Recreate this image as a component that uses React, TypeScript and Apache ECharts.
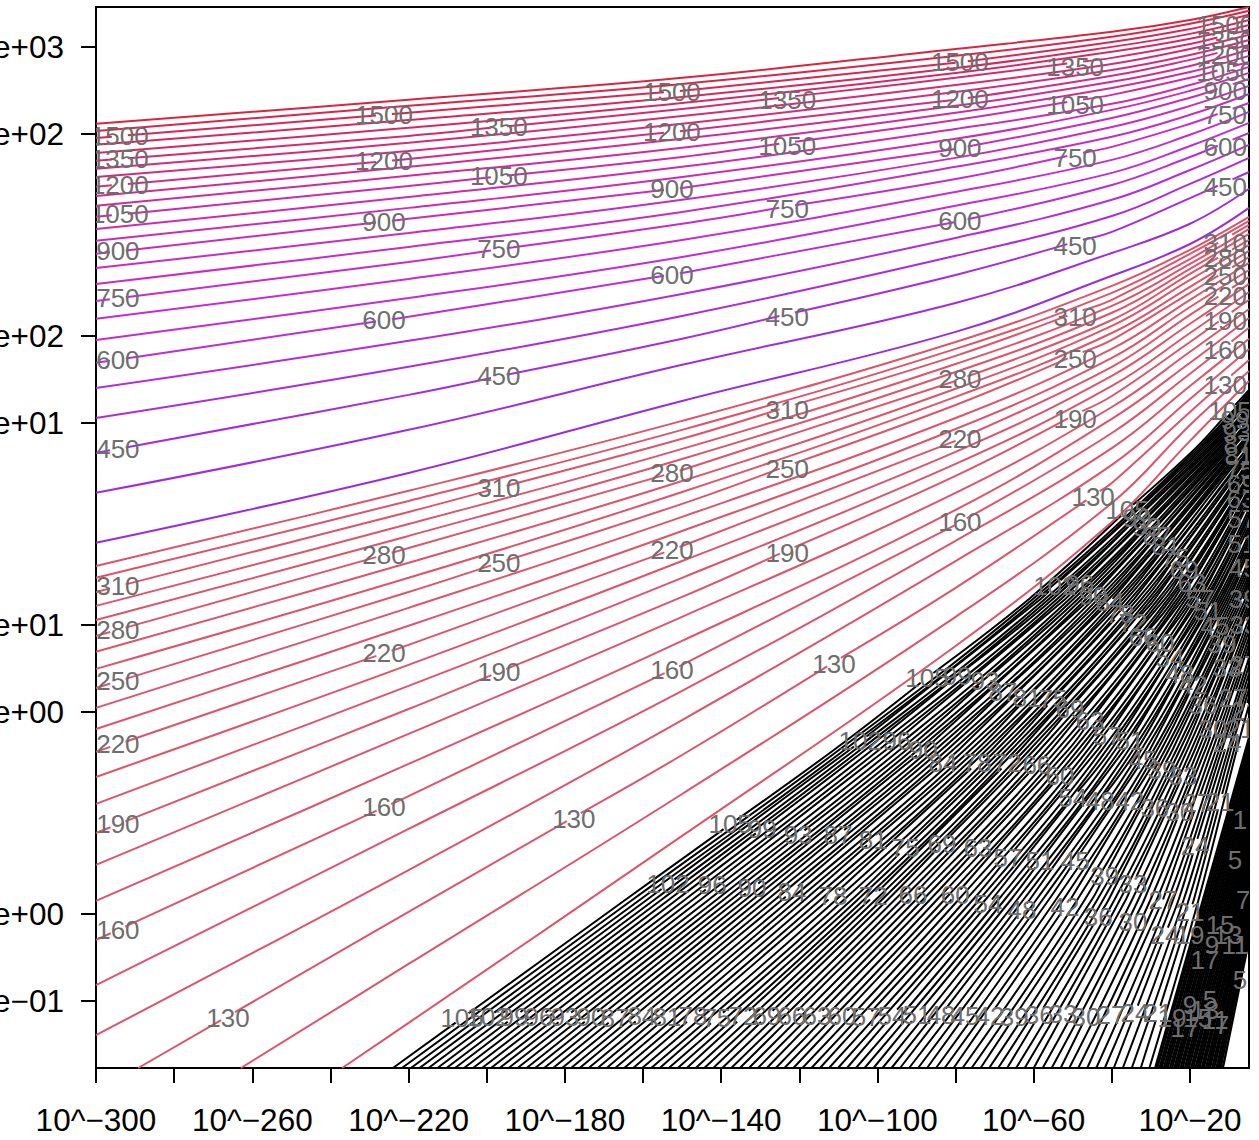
import React, { useEffect, useRef } from "react";
import * as echarts from "echarts";

// All x values are log10(x); all y values are log10(y).
const X_MIN = -300;
const X_MAX = -4.9;
const Y_MIN = -0.533;
const Y_MAX = 3.138;

const xTickValues = [-300, -280, -260, -240, -220, -200, -180, -160, -140, -120, -100, -80, -60, -40, -20];
const xLabelValues = [-300, -260, -220, -180, -140, -100, -60, -20];
const yTickValues = [3, 2.699, 2, 1.699, 1, 0.699, 0, -0.301];
const yTickLabels = ["1e+03", "5e+02", "1e+02", "5e+01", "1e+01", "5e+00", "1e+00", "5e\u221201"];

// Upper family: contour levels 350..1600, y read at fixed x columns
const upperColumns = [-300, -220, -150, -80, -40, -20, -4.9];
const upperLevels = [350, 400, 450, 500, 550, 600, 650, 700, 750, 800, 850, 900, 950, 1000, 1050, 1100, 1150, 1200, 1250, 1300, 1350, 1400, 1450, 1500, 1550, 1600];
const upperAtM300 = [1.284, 1.457, 1.595, 1.716, 1.82, 1.907, 1.986, 2.059, 2.121, 2.18, 2.235, 2.284, 2.329, 2.37, 2.412, 2.45, 2.484, 2.516, 2.55, 2.578, 2.606, 2.633, 2.661, 2.685, 2.709, 2.734];
const upperAtM220 = [1.526, 1.675, 1.796, 1.893, 1.983, 2.066, 2.131, 2.197, 2.256, 2.308, 2.356, 2.405, 2.443, 2.481, 2.519, 2.554, 2.585, 2.612, 2.64, 2.668, 2.692, 2.72, 2.747, 2.772, 2.796, 2.817];
const upperAtM150 = [1.775, 1.9, 1.99, 2.069, 2.145, 2.218, 2.273, 2.332, 2.388, 2.429, 2.471, 2.512, 2.55, 2.585, 2.619, 2.651, 2.682, 2.709, 2.734, 2.761, 2.785, 2.806, 2.827, 2.848, 2.872, 2.893];
const upperAtM80 = [2.014, 2.114, 2.211, 2.277, 2.339, 2.394, 2.45, 2.498, 2.543, 2.585, 2.616, 2.647, 2.682, 2.716, 2.747, 2.772, 2.796, 2.817, 2.844, 2.868, 2.893, 2.91, 2.927, 2.945, 2.969, 2.993];
const upperAtM40 = [2.208, 2.287, 2.36, 2.415, 2.471, 2.522, 2.564, 2.609, 2.654, 2.689, 2.723, 2.754, 2.782, 2.803, 2.834, 2.858, 2.879, 2.9, 2.92, 2.941, 2.962, 2.983, 3.0, 3.017, 3.035, 3.052];
const upperAtM20 = [2.318, 2.388, 2.477, 2.526, 2.574, 2.619, 2.657, 2.696, 2.734, 2.765, 2.796, 2.824, 2.848, 2.868, 2.893, 2.913, 2.934, 2.955, 2.972, 2.993, 3.01, 3.028, 3.045, 3.062, 3.08, 3.093];
const upperAtEdge = [2.443, 2.509, 2.567, 2.616, 2.661, 2.702, 2.737, 2.775, 2.806, 2.837, 2.865, 2.889, 2.91, 2.931, 2.948, 2.969, 2.99, 3.007, 3.024, 3.042, 3.059, 3.076, 3.093, 3.111, 3.125, 3.138];

// Middle family: contour levels 110..330
const middleLevels = [110, 120, 130, 140, 150, 160, 170, 180, 190, 200, 210, 220, 230, 240, 250, 260, 270, 280, 290, 300, 310, 320, 330];
const middleBottomX = [-237.0, -262.9, -289.2];
const middleAtM300 = [null, null, null, -0.419, -0.246, -0.09, 0.045, 0.17, 0.28, 0.381, 0.474, 0.561, 0.64, 0.713, 0.782, 0.848, 0.907, 0.962, 1.017, 1.066, 1.114, 1.163, 1.204];
const middleAtM220 = [-0.377, -0.173, 0.007, 0.152, 0.294, 0.408, 0.519, 0.623, 0.709, 0.789, 0.862, 0.931, 0.997, 1.059, 1.114, 1.163, 1.215, 1.266, 1.308, 1.349, 1.391, 1.429, 1.464];
const middleAtM150 = [0.27, 0.415, 0.55, 0.671, 0.772, 0.862, 0.945, 1.028, 1.097, 1.163, 1.221, 1.273, 1.325, 1.374, 1.419, 1.46, 1.498, 1.536, 1.574, 1.609, 1.644, 1.675, 1.706];
const middleAtM80 = [0.927, 1.028, 1.128, 1.221, 1.291, 1.346, 1.398, 1.457, 1.516, 1.557, 1.599, 1.637, 1.678, 1.716, 1.761, 1.789, 1.817, 1.844, 1.875, 1.903, 1.931, 1.955, 1.979];
const middleAtM40 = [1.356, 1.422, 1.491, 1.554, 1.612, 1.664, 1.713, 1.754, 1.792, 1.827, 1.862, 1.893, 1.924, 1.955, 1.986, 2.01, 2.035, 2.055, 2.08, 2.104, 2.125, 2.149, 2.173];
const middleAtM20 = [1.637, 1.692, 1.737, 1.782, 1.827, 1.869, 1.907, 1.945, 1.979, 2.01, 2.042, 2.073, 2.1, 2.125, 2.149, 2.17, 2.194, 2.215, 2.232, 2.249, 2.266, 2.284, 2.298];
const middleAtEdge = [1.844, 1.879, 1.917, 1.955, 1.99, 2.028, 2.062, 2.093, 2.125, 2.152, 2.18, 2.204, 2.228, 2.253, 2.273, 2.294, 2.315, 2.332, 2.353, 2.37, 2.384, 2.398, 2.412];

// Black family: levels 105..20, x read at fixed y rows, then y at the right edge
const blackRowY = [0.05, 0.57, 1.09, 1.61];
const blackLevels = [105, 104, 103, 102, 101, 100, 99, 98, 97, 96, 95, 94, 93, 92, 91, 90, 89, 88, 87, 86, 85, 84, 83, 82, 81, 80, 79, 78, 77, 76, 75, 74, 73, 72, 71, 70, 69, 68, 67, 66, 65, 64, 63, 62, 61, 60, 59, 58, 57, 56, 55, 54, 53, 52, 51, 50, 49, 48, 47, 46, 45, 44, 43, 42, 41, 40, 39, 38, 37, 36, 35, 34, 33, 32, 31, 30, 29, 28, 27, 26, 25, 24, 23, 22, 21, 20];
const blackAtBottom = [-224.0, -221.7, -219.4, -217.2, -214.9, -212.6, -210.3, -208.1, -205.8, -203.5, -201.2, -198.9, -196.7, -194.4, -192.1, -189.8, -187.6, -185.3, -183.0, -180.7, -178.4, -176.2, -173.9, -171.6, -169.3, -167.1, -164.8, -162.5, -160.2, -157.9, -155.7, -153.4, -151.1, -148.8, -146.5, -144.3, -142.0, -139.7, -137.4, -135.2, -132.9, -130.6, -128.3, -126.0, -123.8, -121.5, -119.2, -116.9, -114.7, -112.4, -110.1, -107.8, -105.5, -103.3, -101.0, -98.7, -96.4, -94.2, -91.9, -89.6, -87.3, -85.0, -82.8, -80.5, -78.2, -75.9, -73.6, -71.4, -69.1, -66.8, -64.5, -62.3, -60.0, -57.7, -55.4, -53.1, -50.9, -48.6, -46.3, -44.0, -41.8, -39.5, -37.2, -34.9, -32.6, -30.4];
const blackAtRow005 = [-164.4, -162.6, -160.7, -158.9, -157.0, -155.2, -153.3, -151.3, -149.2, -147.2, -145.2, -143.1, -141.1, -139.3, -137.4, -135.6, -133.7, -131.9, -130.0, -128.1, -126.2, -124.3, -122.3, -120.4, -118.5, -116.5, -114.5, -112.5, -110.5, -108.5, -106.5, -105.0, -103.4, -101.9, -100.4, -98.8, -97.3, -95.5, -93.7, -91.9, -90.1, -88.3, -86.5, -84.7, -82.8, -81.0, -79.2, -77.3, -75.5, -73.9, -72.3, -70.7, -69.0, -67.4, -65.8, -64.2, -62.6, -61.0, -59.3, -57.7, -56.1, -54.3, -52.4, -50.6, -48.8, -46.9, -45.1, -43.7, -42.2, -40.8, -39.3, -37.9, -36.4, -34.8, -33.2, -31.7, -30.1, -28.5, -26.9, -25.6, -24.3, -22.9, -21.6, -20.3, -19.0, -17.8];
const blackAtRow057 = [-110.9, -109.6, -108.2, -106.9, -105.6, -104.2, -102.9, -101.1, -99.4, -97.6, -95.9, -94.1, -92.4, -90.9, -89.4, -87.9, -86.5, -85.0, -83.5, -82.0, -80.5, -79.0, -77.5, -76.0, -74.5, -73.2, -71.9, -70.6, -69.4, -68.1, -66.8, -65.6, -64.4, -63.3, -62.1, -60.9, -59.7, -58.3, -56.8, -55.4, -53.9, -52.5, -51.0, -49.8, -48.5, -47.3, -46.0, -44.8, -43.5, -42.4, -41.2, -40.1, -39.0, -37.8, -36.7, -35.6, -34.5, -33.5, -32.4, -31.3, -30.2, -29.2, -28.3, -27.3, -26.3, -25.4, -24.4, -23.4, -22.5, -21.5, -20.6, -19.6, -18.7, -17.8, -16.9, -16.0, -15.1, -14.2, -13.3, -12.5, -11.8, -11.0, -10.2, -9.5, -8.7, -8.0];
const blackAtRow109 = [-61.2, -60.2, -59.2, -58.2, -57.1, -56.1, -55.1, -54.0, -53.0, -51.9, -50.8, -49.8, -48.7, -47.7, -46.6, -45.6, -44.6, -43.5, -42.5, -41.6, -40.7, -39.8, -38.9, -38.0, -37.1, -36.2, -35.2, -34.3, -33.4, -32.4, -31.5, -30.6, -29.8, -29.0, -28.1, -27.3, -26.4, -25.6, -24.9, -24.1, -23.3, -22.6, -21.8, -21.1, -20.3, -19.6, -18.9, -18.1, -17.4, -16.8, -16.1, -15.5, -14.9, -14.2, -13.6, -13.0, -12.4, -11.8, -11.2, -10.6, -10.0, -9.4, -8.8, -8.2, -7.6, -7.0, -6.4, -5.8, -5.2];
const blackAtRow161 = [-18.7, -18.1, -17.5, -16.9, -16.3, -15.7, -15.1, -14.6, -14.0, -13.5, -12.9, -12.4, -11.8, -11.3, -10.8, -10.3, -9.8, -9.2, -8.7, -8.2, -7.8, -7.3, -6.8, -6.4, -5.9, -5.4];
const blackAtEdge = [1.813, 1.805, 1.797, 1.789, 1.781, 1.773, 1.765, 1.757, 1.749, 1.741, 1.732, 1.724, 1.716, 1.709, 1.701, 1.694, 1.686, 1.679, 1.671, 1.663, 1.655, 1.647, 1.639, 1.631, 1.623, 1.615, 1.608, 1.6, 1.593, 1.585, 1.578, 1.57, 1.562, 1.553, 1.545, 1.537, 1.529, 1.521, 1.514, 1.506, 1.499, 1.491, 1.484, 1.473, 1.461, 1.45, 1.438, 1.427, 1.415, 1.401, 1.386, 1.372, 1.358, 1.343, 1.329, 1.315, 1.3, 1.286, 1.271, 1.257, 1.242, 1.226, 1.21, 1.194, 1.177, 1.161, 1.145, 1.128, 1.112, 1.095, 1.078, 1.062, 1.045, 1.023, 1.001, 0.979, 0.957, 0.935, 0.913, 0.886, 0.859, 0.832, 0.805, 0.778, 0.751, 0.723];

// Lowest levels: packed lines, bottom crossing x and right-edge y
const denseBottomX = [-28.9, -28.4, -27.8, -27.3, -26.7, -26.2, -25.7, -25.1, -24.6, -24.0, -23.5, -23.0, -22.4, -21.9, -21.3, -20.8, -20.3, -19.7, -19.2, -18.6, -18.1, -17.6, -17.0, -16.5, -15.9, -15.4, -14.9, -14.3, -13.8, -13.2, -12.7, -12.2, -11.6];
const denseEdgeY = [0.609, 0.587, 0.565, 0.544, 0.522, 0.5, 0.478, 0.456, 0.435, 0.413, 0.391, 0.369, 0.347, 0.326, 0.304, 0.282, 0.26, 0.238, 0.217, 0.195, 0.173, 0.151, 0.129, 0.108, 0.086, 0.064, 0.042, 0.02, -0.001, -0.023, -0.045, -0.067, -0.09];

// Contour labels: x of the label, contour level, and a small y nudge (log10 units)
const upperLabelRuns: [number[], number[], number][] = [
  [[-293.9, -293.9, -293.9, -293.9], [1500, 1350, 1200, 1050], 0],
  [[-294.4, -294.4, -294.4, -294.4, -294.4, -294.4, -294.4, -294.4, -294.4, -294.4], [900, 750, 600, 450, 310, 280, 250, 220, 190, 160], 0],
  [[-226.3, -226.3, -226.3, -226.3, -226.3, -226.3, -226.3], [1500, 1200, 900, 600, 280, 220, 160], 0],
  [[-196.9, -196.9, -196.9, -196.9, -196.9, -196.9, -196.9], [1350, 1050, 750, 450, 310, 250, 190], 0],
  [[-152.6, -152.6, -152.6, -152.6, -152.6, -152.6, -152.6], [1500, 1200, 900, 600, 280, 220, 160], 0],
  [[-123.1, -123.1, -123.1, -123.1, -123.1, -123.1, -123.1], [1350, 1050, 750, 450, 310, 250, 190], -0.01],
  [[-78.9, -78.9, -78.9, -78.9, -78.9, -78.9, -78.9], [1500, 1200, 900, 600, 280, 220, 160], 0],
  [[-49.4, -49.4, -49.4, -49.4, -49.4, -49.4, -49.4], [1350, 1050, 750, 450, 310, 250, 190], -0.014],
  [[-11, -11, -11, -11, -11, -11, -11, -11, -11, -11, -11, -11, -11, -11, -11], [1500, 1350, 1200, 1050, 900, 750, 600, 450, 310, 280, 250, 220, 190, 160, 130], -0.014],
  [[-266.2, -177.7, -111.1, -44.8], [130, 130, 130, 130], -0.006],
];
const blackLabelRowA = [-206.3, -199.7, -193.0, -186.6, -180.0, -173.3, -167.2, -160.3, -153.9, -147.2, -141.1, -134.4, -128.3, -121.9, -115.5, -109.1, -102.9, -96.3, -89.9, -83.7, -77.6, -71.2, -65.0, -58.6, -52.5, -46.6, -40.2, -34.1, -28.2];
const blackLabelRowALevels = [105, 102, 99, 96, 93, 90, 87, 84, 81, 78, 75, 72, 69, 66, 63, 60, 57, 54, 51, 48, 45, 42, 39, 36, 33, 30, 27, 24, 21];
const evenRowLevels = [102, 96, 90, 84, 78, 72, 66, 60, 54, 48, 42, 36, 30, 24];
const oddRowLevels = [105, 99, 93, 87, 81, 75, 69, 63, 57, 51, 45, 39, 33, 27, 21];
const blackLabelRowB = [-153.6, -142.3, -132.1, -121.9, -111.4, -101.1, -90.9, -80.1, -71.7, -63.0, -52.0, -43.5, -34.6, -26.4];
const blackLabelRowC = [-137.7, -129.5, -120.3, -110.1, -101.1, -92.9, -83.5, -74.3, -66.6, -58.4, -49.4, -41.8, -34.6, -26.9, -20.0];
const blackLabelRowD = [-104.4, -95.0, -88.3, -83.2, -74.5, -66.8, -59.2, -53.3, -50.0, -43.0, -35.4, -29.0, -22.6, -18.7];
const blackLabelRowE = [-87.3, -79.6, -72.5, -67.9, -61.7, -55.1, -50.7, -45.6, -41.2, -35.4, -32.0, -27.2, -21.8, -18.2, -12.3];
const blackLabelRowF = [-54.6, -48.2, -44.8, -40.5, -37.9, -34.6, -32.0, -27.7, -25.1, -22.6, -19.2, -16.7, -14.1, -10.5];
const blackLabelRowG = [-36.1, -33.5, -31.0, -28.4, -26.1, -23.8, -21.5, -19.5, -17.4, -15.4, -13.6, -11.8, -10.5, -9.0, -7.2];
const blackLabelRowH = [-9.8, -8.5, -8.0, -7.7, -7.5, -7.2, -6.9, -6.9, -6.7, -6.7, -6.4, -6.4, -6.2, -6.2, -5.9];
// Overlapping labels in the packed area: x, y, text
const denseLabelX = [-24.6, -21.3, -18.0, -16.2, -13.6, -20.0, -11.8, -14.9, -20.0, -16.2, -12.3, -10.3, -8.5, -14.4, -6.4, -7.2, -8.5, -7.2];
const denseLabelY = [-0.36, -0.394, -0.36, -0.332, -0.367, -0.315, -0.384, -0.298, -0.073, -0.159, -0.038, -0.073, -0.107, -0.107, 0.048, -0.228, 0.187, 0.325];
const denseLabelText = ["19", "17", "15", "13", "11", "9", "7", "5", "19", "17", "15", "13", "11", "9", "7", "5", "5", "1"];

const FONT = '"Liberation Sans", Arial, sans-serif';
const GRID = { left: 96, top: 7, width: 1153, height: 1061 };
const PX_X = GRID.width / (X_MAX - X_MIN);
const PX_Y = GRID.height / (Y_MAX - Y_MIN);
const LABEL_GAP = 16;
const upperStops = ["#9A2BE2", "#C42CD8", "#D02AB4", "#D62A78", "#DA2540"];

type P = [number, number];

function hex(c: string) {
  return [1, 3, 5].map((i) => parseInt(c.slice(i, i + 2), 16));
}
function upperColor(t: number) {
  const s = t * (upperStops.length - 1);
  const i = Math.min(Math.floor(s), upperStops.length - 2);
  const a = hex(upperStops[i]);
  const b = hex(upperStops[i + 1]);
  const m = a.map((v, k) => Math.round(v + (b[k] - v) * (s - i)));
  return `rgb(${m[0]},${m[1]},${m[2]})`;
}
function yOnLine(pts: P[], x: number) {
  for (let i = 0; i + 1 < pts.length; i++) {
    const [a, b] = [pts[i], pts[i + 1]];
    if (x >= a[0] && x <= b[0]) return a[1] + ((b[1] - a[1]) * (x - a[0])) / (b[0] - a[0] || 1);
  }
  return pts[pts.length - 1][1];
}
function withGaps(pts: P[], labelXs: number[]) {
  const out: any[] = [];
  const sorted = [...labelXs].sort((a, b) => a - b);
  for (let i = 0; i < pts.length; i++) {
    const a = pts[i];
    out.push(a);
    const b = pts[i + 1];
    if (!b) break;
    const dx = b[0] - a[0];
    const dy = b[1] - a[1];
    const len = Math.hypot(dx * PX_X, dy * PX_Y) || 1;
    const half = ((LABEL_GAP / 2) * dx) / len;
    for (const lx of sorted) {
      if (lx <= a[0] || lx > b[0]) continue;
      const l = Math.max(a[0], lx - half);
      const r = Math.min(b[0], lx + half);
      out.push([l, a[1] + (dy * (l - a[0])) / (dx || 1)]);
      out.push(["-", "-"]);
      out.push([r, a[1] + (dy * (r - a[0])) / (dx || 1)]);
    }
  }
  return out;
}

function buildLines() {
  const lines = new Map<number, P[]>();
  upperLevels.forEach((lv, i) => {
    const ys = [upperAtM300[i], upperAtM220[i], upperAtM150[i], upperAtM80[i], upperAtM40[i], upperAtM20[i], upperAtEdge[i]];
    lines.set(lv, ys.map((y, k) => [upperColumns[k], y] as P));
  });
  middleLevels.forEach((lv, i) => {
    const pts: P[] = [];
    if (middleAtM300[i] === null) pts.push([middleBottomX[i], Y_MIN]);
    else pts.push([upperColumns[0], middleAtM300[i] as number]);
    const ys = [middleAtM220[i], middleAtM150[i], middleAtM80[i], middleAtM40[i], middleAtM20[i], middleAtEdge[i]];
    ys.forEach((y, k) => pts.push([upperColumns[k + 1], y]));
    lines.set(lv, pts);
  });
  blackLevels.forEach((lv, i) => {
    const pts: P[] = [[blackAtBottom[i], Y_MIN], [blackAtRow005[i], blackRowY[0]], [blackAtRow057[i], blackRowY[1]]];
    if (blackAtRow109[i] !== undefined) pts.push([blackAtRow109[i], blackRowY[2]]);
    if (blackAtRow161[i] !== undefined) pts.push([blackAtRow161[i], blackRowY[3]]);
    pts.push([X_MAX, blackAtEdge[i]]);
    lines.set(lv, pts);
  });
  return lines;
}

function buildLabels() {
  const out: { level: number; x: number; nudge: number }[] = [];
  upperLabelRuns.forEach(([xs, lv, nudge]) => xs.forEach((x, i) => out.push({ level: lv[i], x, nudge })));
  const add = (xs: number[], lv: number[]) => xs.forEach((x, i) => out.push({ level: lv[i], x, nudge: 0 }));
  add(blackLabelRowA, blackLabelRowALevels);
  add(blackLabelRowB, evenRowLevels);
  add(blackLabelRowC, oddRowLevels);
  add(blackLabelRowD, evenRowLevels);
  add(blackLabelRowE, oddRowLevels);
  add(blackLabelRowF, evenRowLevels);
  add(blackLabelRowG, oddRowLevels);
  add(blackLabelRowH, oddRowLevels);
  return out;
}

function buildOption() {
  const lines = buildLines();
  const labels = buildLabels();
  const xsByLevel = new Map<number, number[]>();
  labels.forEach((l) => {
    if (!xsByLevel.has(l.level)) xsByLevel.set(l.level, []);
    xsByLevel.get(l.level)!.push(l.x);
  });

  const series: any[] = [];
  const addLine = (name: string, pts: any[], color: string, width: number) =>
    series.push({
      type: "line",
      name,
      data: pts,
      showSymbol: false,
      silent: true,
      connectNulls: false,
      clip: true,
      smooth: 0.4,
      lineStyle: { color, width },
      itemStyle: { color },
    });

  blackLevels.forEach((lv) => addLine(String(lv), withGaps(lines.get(lv)!, xsByLevel.get(lv) || []), "#000000", 2));
  denseBottomX.forEach((x, i) =>
    addLine(`low${i}`, [[x, Y_MIN], [X_MAX, denseEdgeY[i]]], "#000000", 2.4)
  );
  middleLevels.forEach((lv) => addLine(String(lv), withGaps(lines.get(lv)!, xsByLevel.get(lv) || []), "#DF536B", 2));
  upperLevels.forEach((lv, i) =>
    addLine(String(lv), withGaps(lines.get(lv)!, xsByLevel.get(lv) || []), upperColor(i / (upperLevels.length - 1)), 2)
  );

  const labelTexts: string[] = [];
  const labelData: number[][] = [];
  labels.forEach((l) => {
    labelData.push([l.x, yOnLine(lines.get(l.level)!, l.x) + l.nudge]);
    labelTexts.push(String(l.level));
  });
  denseLabelX.forEach((x, i) => {
    labelData.push([x, denseLabelY[i]]);
    labelTexts.push(denseLabelText[i]);
  });

  series.push({
    type: "custom",
    name: "contour labels",
    data: labelData,
    encode: { x: 0, y: 1 },
    clip: true,
    silent: true,
    z: 10,
    renderItem: (params: any, api: any) => {
      const c = api.coord([api.value(0), api.value(1)]);
      return {
        type: "text",
        x: c[0],
        y: c[1],
        style: {
          text: labelTexts[params.dataIndex],
          fill: "#6E6E6E",
          fontSize: 26,
          fontFamily: FONT,
          align: "center",
          verticalAlign: "middle",
        },
      };
    },
  });

  const axisCommon = {
    splitLine: { show: false },
    axisLine: { show: true, onZero: false, lineStyle: { color: "#000", width: 2 } },
  };
  return {
    animation: false,
    backgroundColor: "#ffffff",
    grid: { ...GRID, show: true, borderColor: "#000", borderWidth: 2, backgroundColor: "transparent", containLabel: false, outerBoundsMode: "none" },
    xAxis: {
      ...axisCommon,
      type: "value",
      min: X_MIN,
      max: X_MAX,
      axisTick: { show: true, length: 15, customValues: xTickValues, lineStyle: { color: "#000", width: 2 } },
      axisLabel: {
        show: true,
        customValues: xLabelValues,
        margin: 36,
        color: "#000",
        fontSize: 31.5,
        fontFamily: FONT,
        formatter: (v: number) => `10^\u2212${Math.abs(v)}`,
      },
    },
    yAxis: {
      ...axisCommon,
      type: "value",
      min: Y_MIN,
      max: Y_MAX,
      axisTick: { show: true, length: 15, customValues: yTickValues, lineStyle: { color: "#000", width: 2 } },
      axisLabel: {
        show: true,
        customValues: yTickValues,
        margin: 32,
        color: "#000",
        fontSize: 31.5,
        fontFamily: FONT,
        formatter: (v: number) => {
          let best = 0;
          yTickValues.forEach((t, i) => {
            if (Math.abs(t - v) < Math.abs(yTickValues[best] - v)) best = i;
          });
          return yTickLabels[best];
        },
      },
    },
    series,
  };
}

export default function App() {
  const ref = useRef<HTMLDivElement>(null);
  useEffect(() => {
    const chart = echarts.init(ref.current!, undefined, { renderer: "svg" });
    chart.setOption(buildOption() as any);
    return () => chart.dispose();
  }, []);
  return <div ref={ref} style={{ position: "absolute", left: 0, top: 0, width: 1259, height: 1140 }} />;
}
